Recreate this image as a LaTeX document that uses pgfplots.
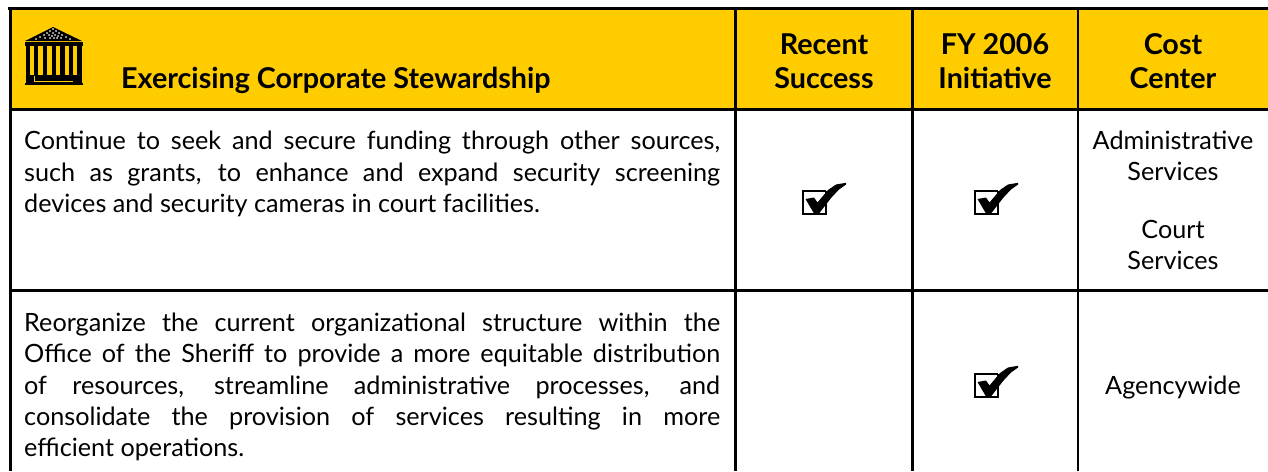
\documentclass[border=0pt]{standalone}
\usepackage{fontspec}
\usepackage{pgfplots}
\usepackage{pgfplotstable}
\pgfplotsset{compat=1.18}
\setmainfont{Lato}
\definecolor{hdr}{HTML}{FFCC00}
\pgfplotstableread{
x y
826 191
826 214
803 214
803 191
826 191
}\chkbox
\pgfplotstableread{
x y
805.5 199
814 197.5
817.5 202.5
828 190
836 184.5
846 182.8
846 184.6
839 189.5
831.5 197.5
819 213.5
814 213.5
}\chkmark
\newcommand{\bodyfont}{\fontsize{25.2}{28}\selectfont}
\newcommand{\headfont}{\fontsize{28.7}{30}\bfseries\selectfont}
\newcommand{\jl}[2]{\node[anchor=base west,inner sep=0pt,font=\bodyfont] at (axis cs:24,#1) {\hbox to 696pt{\spaceskip=0.25em plus 1fil #2}};}
\newcommand{\lastl}[2]{\node[anchor=base west,inner sep=0pt,font=\bodyfont] at (axis cs:24,#1) {#2};}
\newcommand{\cc}[3]{\node[anchor=base,inner sep=0pt,font=\bodyfont] at (axis cs:#1,#2) {#3};}
\newcommand{\hh}[3]{\node[anchor=base,inner sep=0pt,font=\headfont] at (axis cs:#1,#2) {#3};}
\newcommand{\chk}[2]{%
\addplot[draw=black,fill=white,line width=2.6pt] table[x expr=\thisrow{x}+#1,y expr=\thisrow{y}+#2] {\chkbox};
\addplot[fill=black,draw=none] table[x expr=\thisrow{x}+#1,y expr=\thisrow{y}+#2] {\chkmark} -- cycle;
}
\begin{document}
\begin{tikzpicture}
\begin{axis}[
  at={(0,0)},anchor=south west,scale only axis,
  width=1268pt,height=471pt,
  xmin=0,xmax=1268,ymin=0,ymax=471,y dir=reverse,
  axis line style={draw=none},ticks=none,
  clip=true,
]
% background and header band
\addplot[fill=white,draw=none] coordinates {(0,0)(1268,0)(1268,471)(0,471)} -- cycle;
\addplot[fill=hdr,draw=none] coordinates {(10,9)(1268,9)(1268,109)(10,109)} -- cycle;
% rules
\addplot[black,line width=3pt] coordinates {(8,8.5)(1268,8.5)};
\addplot[black,line width=3.5pt] coordinates {(10,109.5)(1268,109.5)};
\addplot[black,line width=3.5pt] coordinates {(10,290.5)(1268,290.5)};
\addplot[black,line width=3pt] coordinates {(10.5,7)(10.5,471)};
\addplot[black,line width=2.5pt] coordinates {(735.5,8)(735.5,471)};
\addplot[black,line width=2.5pt] coordinates {(912.5,8)(912.5,471)};
\addplot[black,line width=2.5pt] coordinates {(1078,8)(1078,471)};
% building icon
\addplot[fill=black,draw=none] coordinates {(53,27)(82,41)(25,41)} -- cycle;
\addplot[fill=black,draw=none] coordinates {(25,42)(83,42)(83,46)(25,46)} -- cycle;
\addplot[fill=black,draw=none] coordinates {(26,46)(30,46)(30,75)(26,75)} -- cycle;
\addplot[fill=black,draw=none] coordinates {(34,46)(38.3,46)(38.3,75)(34,75)} -- cycle;
\addplot[fill=black,draw=none] coordinates {(42.7,46)(47.3,46)(47.3,75)(42.7,75)} -- cycle;
\addplot[fill=black,draw=none] coordinates {(51.7,46)(56,46)(56,75)(51.7,75)} -- cycle;
\addplot[fill=black,draw=none] coordinates {(60,46)(65,46)(65,75)(60,75)} -- cycle;
\addplot[fill=black,draw=none] coordinates {(69,46)(73.3,46)(73.3,75)(69,75)} -- cycle;
\addplot[fill=black,draw=none] coordinates {(77.3,46)(81.7,46)(81.7,75)(77.3,75)} -- cycle;
\addplot[fill=black,draw=none] coordinates {(26,75)(81.7,75)(81.7,83)(26,83)} -- cycle;
\addplot[fill=black,draw=none] coordinates {(25,83)(83,83)(83,85)(25,85)} -- cycle;
\addplot[hdr,line width=0.8pt] coordinates {(34.5,76)(34.5,81.7)(72.7,81.7)};
\addplot[white,only marks,mark=*,mark size=0.5pt] coordinates {
(53,29)(50,31)(56,31)(47,33)(53,33)(59,33)(44,35)(49,35)(52,36)(55,35)(58,36)(62,35)
(40,37)(45,38)(50,38)(54,38)(57,38)(66,37)(36,39)(70,39)(61,38)};
% checks
\chk{0}{0}
\chk{172}{0}
\chk{172}{183}
% header text
\node[anchor=base west,inner sep=0pt,font=\headfont] at (axis cs:121,88) {Exercising Corporate Stewardship};
\hh{824}{54}{Recent}
\hh{824}{88}{Success}
\hh{995}{54}{FY 2006}
\hh{995}{88}{Initiative}
\hh{1173}{54}{Cost}
\hh{1173}{88}{Center}
% row 1
\jl{149}{Continue to seek and secure funding through other sources,}
\jl{181}{such as grants, to enhance and expand security screening}
\lastl{212}{devices and security cameras in court facilities.}
\cc{1173}{149}{Administrative}
\cc{1173}{180}{Services}
\cc{1173}{238}{Court}
\cc{1173}{269}{Services}
% row 2
\jl{331}{Reorganize the current organizational structure within the}
\jl{362}{Office of the Sheriff to provide a more equitable distribution}
\jl{394}{of resources, streamline administrative processes, and}
\jl{425}{consolidate the provision of services resulting in more}
\lastl{456}{efficient operations.}
\cc{1173}{394}{Agencywide}
\end{axis}
\end{tikzpicture}
\end{document}
